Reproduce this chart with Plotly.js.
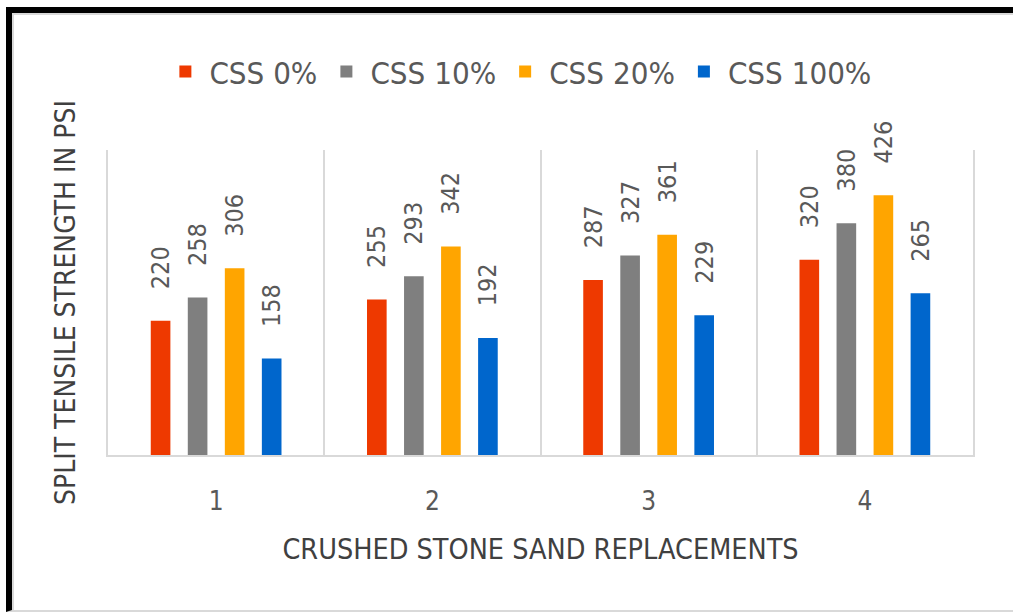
<!DOCTYPE html>
<html>
<head>
<meta charset="utf-8">
<script src="https://cdn.plot.ly/plotly-3.0.1.min.js"></script>
<style>
  html, body { margin: 0; padding: 0; background: #ffffff; }
  #wrap { position: relative; width: 1013px; height: 616px; overflow: hidden; }
  #chart { position: absolute; left: 0; top: 0; width: 1013px; height: 616px; }
  #frame {
    position: absolute; left: 6px; top: 7px; width: 1007px; height: 605px;
    border-left: 6px solid #000; border-top: 6px solid #000;
    border-bottom: 2px solid #d9d9d9; box-sizing: border-box;
    box-shadow: inset 2px 2px 0 #d9d9d9; pointer-events: none;
  }
</style>
</head>
<body>
<div id="wrap">
  <div id="chart"></div>
  <div id="frame"></div>
</div>
<script>
const categories = ["1", "2", "3", "4"];
const seriesNames = ["CSS 0%", "CSS 10%", "CSS 20%", "CSS 100%"];
const css0 = [220, 255, 287, 320];
const css10 = [258, 293, 327, 380];
const css20 = [306, 342, 361, 426];
const css100 = [158, 192, 229, 265];
const seriesValues = [css0, css10, css20, css100];
const colors = ["#EE3900", "#7F7F7F", "#FFA500", "#0066CC"];

const FONT = "'DejaVu Sans Condensed', 'Liberation Sans Narrow', 'DejaVu Sans', sans-serif";

const traces = seriesValues.map((vals, i) => ({
  type: "bar",
  name: seriesNames[i],
  x: categories,
  y: vals,
  marker: { color: colors[i] },
  texttemplate: "\u00A0\u00A0\u00A0\u00A0%{y}",
  textposition: "outside",
  textangle: -90,
  constraintext: "none",
  cliponaxis: false,
  textfont: { family: FONT, size: 25, color: "#595959" },
  hoverinfo: "x+y+name"
}));

const layout = {
  width: 1013,
  height: 616,
  margin: { l: 108, r: 40, t: 150, b: 161 },
  paper_bgcolor: "#ffffff",
  plot_bgcolor: "#ffffff",
  barmode: "group",
  bargap: 0.315,
  bargroupgap: 0.47,
  font: { family: FONT, color: "#595959" },
  showlegend: true,
  legend: {
    orientation: "h",
    x: 0.475, xanchor: "center",
    y: 1.256, yanchor: "middle",
    font: { family: FONT, size: 31, color: "#595959" },
    itemwidth: 38,
    traceorder: "normal"
  },
  xaxis: {
    type: "category",
    tickson: "boundaries",
    showgrid: true,
    gridcolor: "#d9d9d9",
    gridwidth: 2,
    showline: true,
    linecolor: "#d9d9d9",
    linewidth: 2,
    ticks: "",
    ticklabelstandoff: 22,
    tickfont: { family: FONT, size: 26, color: "#595959" },
    title: {
      text: "CRUSHED STONE SAND REPLACEMENTS",
      font: { family: FONT, size: 28.5, color: "#404040" },
      standoff: 24
    },
    fixedrange: true
  },
  yaxis: {
    range: [0, 500],
    autorange: false,
    showgrid: false,
    zeroline: false,
    showticklabels: false,
    ticks: "",
    showline: true,
    mirror: true,
    linecolor: "#d9d9d9",
    linewidth: 2,
    title: {
      text: "SPLIT TENSILE STRENGTH IN PSI",
      font: { family: FONT, size: 28, color: "#404040" },
      standoff: 22
    },
    fixedrange: true
  }
};

Plotly.newPlot("chart", traces, layout, { displayModeBar: false, staticPlot: true });
</script>
</body>
</html>
